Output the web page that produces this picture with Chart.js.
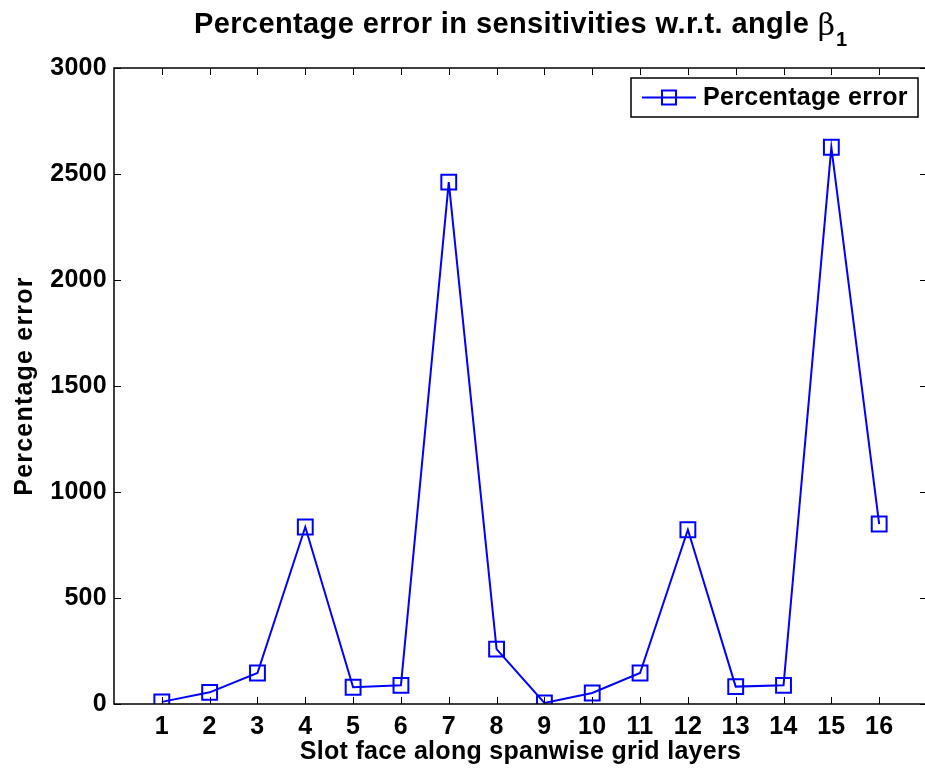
<!DOCTYPE html>
<html>
<head>
<meta charset="utf-8">
<script src="https://cdn.jsdelivr.net/npm/chart.js@4"></script>
<style>
html,body{margin:0;padding:0;background:#fff;overflow:hidden;}
#wrap{width:940px;height:768px;position:relative;}
</style>
</head>
<body>
<div id="wrap"><canvas id="c" width="940" height="768"></canvas></div>
<script>
const slots = [1,2,3,4,5,6,7,8,9,10,11,12,13,14,15,16];
const percentErr = [10, 55, 146, 835, 79, 88, 2462, 259, 5, 52, 146, 822, 82, 88, 2626, 849];
const xTicks = [1,2,3,4,5,6,7,8,9,10,11,12,13,14,15,16];
const yTicks = [0,500,1000,1500,2000,2500,3000];
const titleMain = 'Percentage error in sensitivities w.r.t. angle ';
const titleSym = 'β';
const titleSub = '1';
const xTitle = 'Slot face along spanwise grid layers';
const yTitle = 'Percentage error';
const seriesLabel = 'Percentage error';

const FONT = '"Liberation Sans", Arial, Helvetica, sans-serif';

const decor = {
  id: 'decor',
  beforeDraw(chart) { chart.ctx.letterSpacing = '0.3px'; },
  afterDraw(chart) {
    const ctx = chart.ctx;
    const a = chart.chartArea;
    const xs = chart.scales.x, ys = chart.scales.y;
    ctx.save();
    // box
    ctx.strokeStyle = '#000';
    ctx.lineWidth = 1.5;
    ctx.strokeRect(a.left, a.top, a.right - a.left, a.bottom - a.top);
    // inside ticks
    ctx.lineWidth = 1;
    ctx.beginPath();
    const tl = 7;
    xTicks.forEach(v => {
      const px = Math.round(xs.getPixelForValue(v)) + 0.5;
      ctx.moveTo(px, a.bottom); ctx.lineTo(px, a.bottom - tl);
      ctx.moveTo(px, a.top); ctx.lineTo(px, a.top + tl);
    });
    yTicks.forEach(v => {
      const py = Math.round(ys.getPixelForValue(v)) + 0.5;
      ctx.moveTo(a.left, py); ctx.lineTo(a.left + tl, py);
      ctx.moveTo(a.right, py); ctx.lineTo(a.right - tl, py);
    });
    ctx.stroke();

    // title
    ctx.fillStyle = '#000';
    ctx.textBaseline = 'alphabetic';
    ctx.textAlign = 'left';
    ctx.letterSpacing = '0.4px';
    ctx.font = 'bold 29px ' + FONT;
    const w1 = ctx.measureText(titleMain).width;
    ctx.letterSpacing = '0px';
    ctx.font = '30px "DejaVu Serif", serif';
    const w2 = ctx.measureText(titleSym).width;
    ctx.font = 'bold 20px ' + FONT;
    const w3 = ctx.measureText(titleSub).width;
    const cx = (a.left + a.right) / 2;
    let x0 = cx - (w1 + w2 + w3 + 1) / 2;
    ctx.letterSpacing = '0.4px';
    ctx.font = 'bold 29px ' + FONT;
    ctx.fillText(titleMain, x0, 33);
    ctx.letterSpacing = '0px';
    ctx.font = '30px "DejaVu Serif", serif';
    ctx.fillText(titleSym, x0 + w1, 35);
    ctx.font = 'bold 20px ' + FONT;
    ctx.fillText(titleSub, x0 + w1 + w2 + 1, 46);

    // axis titles
    ctx.textAlign = 'center';
    ctx.textBaseline = 'middle';
    ctx.letterSpacing = '0.3px';
    ctx.font = 'bold 25px ' + FONT;
    ctx.fillText(xTitle, cx, 752);
    ctx.save();
    ctx.translate(25, (a.top + a.bottom) / 2);
    ctx.rotate(-Math.PI / 2);
    ctx.letterSpacing = '1.2px';
    ctx.font = 'bold 25px ' + FONT;
    ctx.fillText(yTitle, 0, 0);
    ctx.restore();

    // legend
    const lx = 631, ly = 78, lw = 287, lh = 39;
    ctx.fillStyle = '#fff';
    ctx.fillRect(lx, ly, lw, lh);
    ctx.strokeStyle = '#000';
    ctx.lineWidth = 1.5;
    ctx.strokeRect(lx, ly, lw, lh);
    const my = ly + lh / 2;
    ctx.strokeStyle = '#0000ff';
    ctx.lineWidth = 1.8;
    ctx.beginPath();
    ctx.moveTo(642, my); ctx.lineTo(696, my);
    ctx.stroke();
    ctx.lineWidth = 2;
    ctx.strokeRect(669 - 7, my - 7, 14, 14);
    ctx.fillStyle = '#000';
    ctx.textAlign = 'left';
    ctx.letterSpacing = '0.3px';
    ctx.font = 'bold 25px ' + FONT;
    ctx.fillText(seriesLabel, 703, my + 1);
    ctx.restore();
  }
};

new Chart(document.getElementById('c'), {
  type: 'line',
  data: {
    datasets: [{
      label: seriesLabel,
      data: slots.map((s, i) => ({x: s, y: percentErr[i]})),
      borderColor: '#0000ff',
      backgroundColor: 'rgba(0,0,0,0)',
      borderWidth: 2,
      pointStyle: 'rect',
      pointRadius: 10.5,
      pointBorderWidth: 2,
      pointBorderColor: '#0000ff',
      pointBackgroundColor: 'rgba(0,0,0,0)',
      tension: 0
    }]
  },
  options: {
    responsive: false,
    animation: false,
    layout: {padding: {left: 0, top: 68, right: 13, bottom: 0}},
    plugins: {legend: {display: false}, title: {display: false}, tooltip: {enabled: false}},
    scales: {
      x: {
        type: 'linear', min: 0, max: 17,
        afterBuildTicks: s => { s.ticks = xTicks.map(v => ({value: v})); },
        afterFit: s => { s.height = 64; },
        grid: {display: false, drawTicks: false},
        border: {display: false},
        ticks: {padding: 8, color: '#000', font: {family: FONT, size: 25, weight: 'bold'}, maxRotation: 0, autoSkip: false,
                callback: v => String(v)}
      },
      y: {
        type: 'linear', min: 0, max: 3000,
        afterBuildTicks: s => { s.ticks = yTicks.map(v => ({value: v})); },
        afterFit: s => { s.width = 114; },
        grid: {display: false, drawTicks: false},
        border: {display: false},
        ticks: {padding: 7, color: '#000', font: {family: FONT, size: 25, weight: 'bold'},
                callback: v => String(v)}
      }
    }
  },
  plugins: [decor]
});
</script>
</body>
</html>
